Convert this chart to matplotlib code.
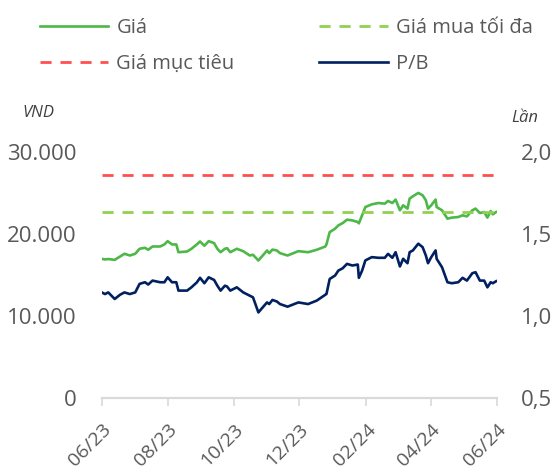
# -*- coding: utf-8 -*-
"""
Gia co phieu va P/B, 06/2023 - 06/2024
"""

import pandas as pd
import matplotlib.pyplot as plt
import matplotlib.dates as mdates
import numpy as np
from matplotlib.ticker import FuncFormatter

plt.rcParams['font.family'] = 'Open Sans'

dates = ['2023-06-01','2023-06-04','2023-06-07','2023-06-13','2023-06-18','2023-06-22','2023-06-27','2023-07-02',
         '2023-07-06','2023-07-11','2023-07-14','2023-07-18','2023-07-25','2023-07-29','2023-08-01','2023-08-05',
         '2023-08-09','2023-08-11','2023-08-19','2023-08-23','2023-08-28','2023-08-31','2023-09-04','2023-09-08',
         '2023-09-13','2023-09-16','2023-09-19','2023-09-23','2023-09-25','2023-09-28','2023-10-04','2023-10-10',
         '2023-10-16','2023-10-19','2023-10-24','2023-10-28','2023-11-01','2023-11-03','2023-11-06','2023-11-10',
         '2023-11-13','2023-11-20','2023-11-30','2023-12-09','2023-12-17','2023-12-25','2023-12-26','2023-12-29',
         '2024-01-03','2024-01-06','2024-01-10','2024-01-14','2024-01-19','2024-01-24','2024-01-25','2024-01-28',
         '2024-01-31','2024-02-06','2024-02-12','2024-02-18','2024-02-21','2024-02-25','2024-02-28','2024-03-03',
         '2024-03-06','2024-03-10','2024-03-12','2024-03-15','2024-03-20','2024-03-24','2024-03-27','2024-03-29',
         '2024-04-01','2024-04-05','2024-04-06','2024-04-11','2024-04-16','2024-04-20','2024-04-26','2024-04-30',
         '2024-05-04','2024-05-09','2024-05-12','2024-05-16','2024-05-20','2024-05-23','2024-05-26','2024-05-28',
         '2024-05-31']
gia = [16970,16900,16950,16850,17260,17590,17380,17590,
       18200,18320,18080,18480,18480,18730,19130,18730,
       18730,17780,17870,18200,18730,19090,18570,19130,
       18890,18200,17780,18200,18280,17780,18200,17900,
       17380,17470,16770,17380,17990,17670,18100,18000,
       17670,17380,17910,17780,18080,18480,18730,20230,
       20650,21050,21330,21750,21660,21460,21300,22280,
       23290,23620,23780,23700,24030,23780,24200,22890,
       23500,23100,24320,24600,25010,24720,24110,23100,
       23500,24200,23290,22890,21870,22000,22070,22280,
       22150,22890,23100,22560,22680,22000,22800,22400,
       22680]
pb = [1.144,1.134,1.144,1.104,1.130,1.144,1.134,1.144,
      1.196,1.206,1.192,1.216,1.206,1.206,1.236,1.206,
      1.206,1.155,1.155,1.175,1.205,1.233,1.200,1.236,
      1.220,1.185,1.155,1.185,1.180,1.155,1.175,1.144,
      1.124,1.114,1.022,1.053,1.083,1.073,1.098,1.089,
      1.073,1.057,1.083,1.073,1.094,1.130,1.134,1.226,
      1.247,1.277,1.291,1.318,1.308,1.314,1.233,1.277,
      1.339,1.359,1.355,1.355,1.379,1.355,1.389,1.302,
      1.349,1.322,1.389,1.400,1.441,1.420,1.369,1.322,
      1.359,1.400,1.349,1.297,1.206,1.200,1.206,1.233,
      1.216,1.261,1.267,1.216,1.216,1.175,1.206,1.200,
      1.212]
gia_muc_tieu = 27200
gia_mua_toi_da = 22700

df = pd.DataFrame({'date': pd.to_datetime(dates), 'Gia': gia, 'PB': pb})

fig, ax = plt.subplots(figsize=(5.53,4.75), dpi=100)
fig.subplots_adjust(left=0.184, right=0.899, bottom=0.162, top=0.68)
ax2 = ax.twinx()

ax.plot(df['date'], df['Gia'], c='#4DB848', lw=1.9, label='Giá')
ax.axhline(gia_muc_tieu, c='#FF4F4F', lw=2, dashes=(4,3.2), label='Giá mục tiêu')
ax.axhline(gia_mua_toi_da, c='#92D050', lw=2, dashes=(4,3.2), label='Giá mua tối đa')
ax2.plot(df['date'], df['PB'], c='#002060', lw=1.9, label='P/B')

ax.set_ylim(0,30000)
ax.set_yticks([0,10000,20000,30000])
ax.yaxis.set_major_formatter(FuncFormatter(lambda v, p: f'{v:,.0f}'.replace(',', '.')))
ax2.set_ylim(0.5,2.0)
ax2.set_yticks([0.5,1.0,1.5,2.0])
ax2.yaxis.set_major_formatter(FuncFormatter(lambda v, p: f'{v:.1f}'.replace('.', ',')))
ax.set_xlim(pd.Timestamp('2023-06-01'), pd.Timestamp('2024-06-01'))
ax.xaxis.set_major_locator(mdates.MonthLocator(bymonth=[2,4,6,8,10,12]))
ax.xaxis.set_major_formatter(mdates.DateFormatter('%m/%y'))

for a in [ax, ax2]:
    for s in ['top','left','right']:
        a.spines[s].set_visible(False)
    a.spines['bottom'].set_color('#D9D9D9')
    a.spines['bottom'].set_linewidth(1.5)
ax.tick_params(axis='y', length=0, labelsize=16, labelcolor='#595959', pad=18)
ax2.tick_params(axis='y', length=0, labelsize=16, labelcolor='#595959', pad=17)
ax.tick_params(axis='x', length=6, width=1.2, color='#D9D9D9', labelsize=14, labelcolor='#595959', pad=10)
plt.setp(ax.get_xticklabels(), rotation=45, ha='right', rotation_mode='anchor')

fig.text(0.04, 0.762, 'VND', fontsize=12, style='italic', color='#404040', ha='left', va='center')
fig.text(0.924, 0.752, 'Lần', fontsize=12, style='italic', color='#404040', ha='left', va='center')

h1, l1 = ax.get_legend_handles_labels()
h2, l2 = ax2.get_legend_handles_labels()
fig.legend(h1+h2, l1+l2, ncol=2, loc='upper left', bbox_to_anchor=(0.072,0.962), frameon=False,
           fontsize=14.5, labelcolor='#595959', handlelength=3.4, handletextpad=0.4,
           columnspacing=4.2, labelspacing=0.8, borderpad=0, borderaxespad=0)

fig.savefig('out.png', dpi=100)
